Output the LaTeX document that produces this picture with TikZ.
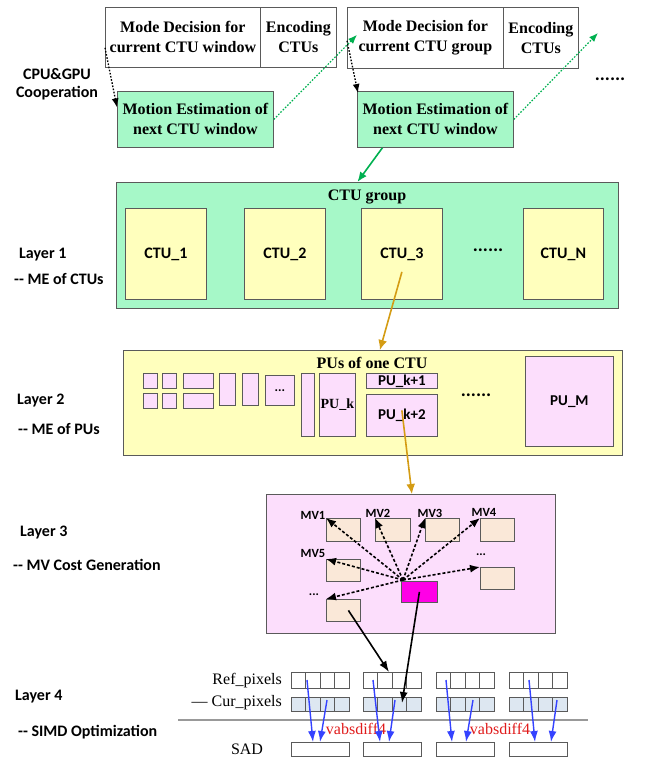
\documentclass[tikz,border=0pt]{standalone}
\usepackage{fontspec}
\setmainfont{Liberation Serif}
\newfontfamily\carl{Carlito}
\usetikzlibrary{arrows.meta,calc}

\definecolor{mint}{HTML}{A6F8C8}
\definecolor{paleyellow}{HTML}{FFFFBD}
\definecolor{palepink}{HTML}{FCDEFC}
\definecolor{peach}{HTML}{FAE8D8}
\definecolor{hotpink}{HTML}{FF00E6}
\definecolor{curblue}{HTML}{DDE7F1}
\definecolor{arrowgreen}{HTML}{00B050}
\definecolor{amber}{HTML}{D49C14}
\definecolor{simdblue}{HTML}{3442FF}
\definecolor{edge}{HTML}{5A5A5A}
\definecolor{diffred}{HTML}{E01B1B}

% box given by its top-left and bottom-right corners (y grows downwards)
\newcommand\rbox[7]{%
  \pgfmathsetmacro\rbw{#5-#3}%
  \pgfmathsetmacro\rbh{#6-#4}%
  \node[#2,minimum width=\rbw pt,minimum height=\rbh pt,anchor=north west,inner sep=0pt] (#1) at (#3,#4) {#7};}

\begin{document}
\begin{tikzpicture}[x=1pt,y=-1pt,
  serifb/.style={font=\bfseries\fontsize{16}{20}\selectfont},
  plainbox/.style={draw=edge,line width=0.8pt,fill=white,align=center,serifb},
  mebox/.style={draw=edge,line width=0.8pt,fill=mint,align=center,serifb},
  ctubox/.style={draw=edge,line width=0.8pt,fill=paleyellow,font=\carl\bfseries\fontsize{16}{18}\selectfont},
  yellowbox/.style={draw=edge,line width=0.8pt,fill=paleyellow},
  pubox/.style={draw=edge,line width=0.8pt,fill=palepink},
  pinkbox/.style={draw=edge,line width=0.8pt,fill=palepink},
  mvbox/.style={draw=edge,line width=0.8pt,fill=peach},
  rowbox/.style={draw=edge,line width=0.8pt,fill=white},
  title/.style={font=\bfseries\fontsize{16}{20}\selectfont,inner sep=0pt},
  sidelbl/.style={font=\carl\bfseries\fontsize{16}{18}\selectfont,inner sep=0pt,anchor=mid west},
  mvlbl/.style={font=\carl\bfseries\fontsize{12.5}{14}\selectfont,inner sep=0pt},
  dotslbl/.style={font=\carl\bfseries\fontsize{19}{20}\selectfont,inner sep=0pt},
  pixlbl/.style={font=\fontsize{16}{18}\selectfont,inner sep=0pt},
  cpuarrow/.style={line width=1.3pt,dash pattern=on 1.6pt off 1.6pt,-{Latex[length=9pt,width=7pt]}},
  gpuarrow/.style={arrowgreen,line width=1.2pt,dash pattern=on 1.6pt off 1.6pt,-{Latex[length=9pt,width=7pt]}},
  flowgreen/.style={arrowgreen,line width=1.6pt,-{Latex[length=10pt,width=8pt]}},
  flowamber/.style={amber,line width=1.6pt,-{Latex[length=10pt,width=9pt]}},
  mvarrow/.style={line width=1.6pt,dash pattern=on 3pt off 2pt,-{Latex[length=10pt,width=8pt]}},
  blackarrow/.style={line width=1.6pt,-{Latex[length=11pt,width=8pt]}},
  simdarrow/.style={simdblue,line width=1.4pt,-{Latex[length=11pt,width=8pt]}}]

\useasboundingbox (0,0) rectangle (654,759);

% ---------------- CPU & GPU cooperation ----------------
\rbox{md1}{plainbox}{105}{7}{260}{67}{Mode Decision for\\current CTU window}
\rbox{en1}{plainbox}{260}{7}{336}{67}{Encoding\\CTUs}
\rbox{md2}{plainbox}{347}{7}{503}{68}{Mode Decision for\\current CTU group}
\rbox{en2}{plainbox}{503}{7}{578}{68}{Encoding\\CTUs}
\rbox{me1}{mebox}{117}{91}{273}{147}{Motion Estimation of\\next CTU window}
\rbox{me2}{mebox}{357}{91}{513}{147}{Motion Estimation of\\next CTU window}
\node[font=\carl\bfseries\fontsize{16}{18}\selectfont,align=center,inner sep=0pt] (coop) at (57,84) {CPU\&GPU\\Cooperation};
\node[dotslbl] (topdots) at (610,79) {......};
\coordinate (nextmd) at (598,33);

\draw[cpuarrow] ([yshift=20pt]md1.south west) -- ([yshift=12pt]me1.west);
\draw[cpuarrow] ([yshift=28pt]md2.south west) -- ([xshift=1pt,yshift=-2pt]me2.north west);
\draw[gpuarrow] (me1.east) -- ([xshift=10pt,yshift=3pt]md2.west);
\draw[gpuarrow] (me2.east) -- (nextmd);

% ---------------- Layer 1 ----------------
\rbox{ctug}{mebox}{116}{182}{618}{308}{}
\node[title] (ctugt) at (367,197) {CTU group};
\rbox{ctu1}{ctubox}{125}{208}{206}{299}{CTU\_1}
\rbox{ctu2}{ctubox}{244}{208}{325}{299}{CTU\_2}
\rbox{ctu3}{ctubox}{361}{208}{442}{299}{CTU\_3}
\rbox{ctun}{ctubox}{523}{208}{603}{299}{CTU\_N}
\node[dotslbl] (ctudots) at (488,250) {......};
\draw[flowgreen] ([xshift=-53pt]me2.south) -- ([xshift=-10pt]ctug.north);

% ---------------- Layer 2 ----------------
\rbox{pub}{yellowbox}{123}{350}{622}{455}{}
\node[title] (pubt) at (372,363) {PUs of one CTU};
\rbox{pu1}{pubox}{143}{373}{157}{388}{}
\rbox{pu2}{pubox}{162}{373}{176}{388}{}
\rbox{pu3}{pubox}{143}{393}{157}{408}{}
\rbox{pu4}{pubox}{162}{393}{176}{408}{}
\rbox{pu5}{pubox}{183}{373}{213}{388}{}
\rbox{pu6}{pubox}{183}{393}{213}{408}{}
\rbox{pu7}{pubox}{219}{373}{235}{405}{}
\rbox{pu8}{pubox}{242}{373}{258}{405}{}
\rbox{pu9}{pubox,font=\carl\bfseries\fontsize{13}{14}\selectfont}{265}{375}{294}{405}{...}
\rbox{pu10}{pubox}{301}{373}{314}{436}{}
\rbox{puk}{pubox,font=\bfseries\fontsize{14}{16}\selectfont}{319}{373}{355}{436}{PU\_k}
\rbox{puka}{pubox,font=\carl\bfseries\fontsize{15}{16}\selectfont}{366}{373}{437}{388}{PU\_k+1}
\rbox{pukb}{pubox,font=\carl\bfseries\fontsize{15}{16}\selectfont}{366}{394}{437}{436}{PU\_k+2}
\node[dotslbl] (pudots) at (476,395) {......};
\rbox{pum}{pubox,font=\carl\bfseries\fontsize{15}{16}\selectfont}{525}{356}{613}{446}{PU\_M}
\draw[flowamber] ([yshift=-18pt]ctu3.center) -- ([xshift=7pt]pub.north);

% ---------------- Layer 3 ----------------
\rbox{mvb}{pinkbox}{266}{494}{555}{633}{}
\rbox{mv1}{mvbox}{326}{518}{360}{541}{}
\rbox{mv2}{mvbox}{375}{518}{410}{541}{}
\rbox{mv3}{mvbox}{425}{518}{459}{541}{}
\rbox{mv4}{mvbox}{480}{518}{514}{541}{}
\rbox{mv5}{mvbox}{326}{559}{360}{581}{}
\rbox{mvr}{mvbox}{480}{567}{514}{589}{}
\rbox{mvl}{mvbox}{326}{599}{360}{621}{}
\rbox{cur}{draw=edge,line width=0.8pt,fill=hotpink}{401}{581}{437}{602}{}
\node[mvlbl] (l1) at (313,515) {MV1};
\node[mvlbl] (l2) at (378,513) {MV2};
\node[mvlbl] (l3) at (430,513) {MV3};
\node[mvlbl] (l4) at (484,512) {MV4};
\node[mvlbl] (l5) at (313,553) {MV5};
\node[mvlbl] (lr) at (481,555) {...};
\node[mvlbl] (ll) at (314,595) {...};
\draw[flowamber] ([yshift=5pt]pukb.center) -- ([xshift=1pt]mvb.north);
\foreach \t in {mv1,mv2,mv3,mv4,mv5,mvr,mvl}
  \draw[mvarrow] ([xshift=2pt,yshift=1pt]cur.north west) -- (\t.north west);

% ---------------- Layer 4 ----------------
\foreach \g/\x in {1/291,2/363,3/436,4/509}{
  \rbox{ref\g}{rowbox}{\x}{672}{\x+58}{688}{}
  \rbox{cur\g}{rowbox,fill=curblue}{\x}{697}{\x+58}{711}{}
  \rbox{sad\g}{rowbox}{\x}{742}{\x+58}{756}{}
  \foreach \i in {1,2,3}{
    \draw[edge,line width=0.8pt] ($(ref\g.north west)+(\i*14.5,0)$) -- ($(ref\g.south west)+(\i*14.5,0)$);
    \draw[edge,line width=0.8pt] ($(cur\g.north west)+(\i*14.5,0)$) -- ($(cur\g.south west)+(\i*14.5,0)$);
  }
}
\node[pixlbl,anchor=mid east] (refl) at (282,682) {Ref\_pixels};
\node[pixlbl,anchor=mid east] (curl) at (282,704) {— Cur\_pixels};
\node[pixlbl] (sadl) at (247,749) {SAD};
\coordinate (sepl) at (178,720);
\coordinate (sepr) at (588,720);
\draw[black!40,line width=1.2pt] (sepl) -- (sepr);
\node[pixlbl,text=diffred] (vd1) at (356,729) {vabsdiff4};
\node[pixlbl,text=diffred] (vd2) at (500,729) {vabsdiff4};

\foreach \g/\as/\ae/\bs/\be in {1/16/22/36/29,2/10/17/32/26,3/10/16/37/30,4/20/26/48/42}{
  \draw[simdarrow] ([xshift=\as pt,yshift=-8pt]ref\g.north west) -- ([xshift=\ae pt]sad\g.north west);
  \draw[simdarrow] ([xshift=\bs pt,yshift=-3pt]cur\g.north west) -- ([xshift=\be pt]sad\g.north west);
}

\draw[blackarrow] ([xshift=5pt]mvl.center) -- ([xshift=26pt]ref2.north west);
\draw[blackarrow] (cur.center) -- ([xshift=39pt,yshift=-6pt]cur2.north west);

% left column
\node[sidelbl] (ly1) at (19,256) {Layer 1};
\node[sidelbl] (ld1) at (14,282) {-{}- ME of CTUs};
\node[sidelbl] (ly2) at (17,402) {Layer 2};
\node[sidelbl] (ld2) at (18,432) {-{}- ME of PUs};
\node[sidelbl] (ly3) at (20,534) {Layer 3};
\node[sidelbl] (ld3) at (13,568) {-{}- MV Cost Generation};
\node[sidelbl] (ly4) at (15,698) {Layer 4};
\node[sidelbl] (ld4) at (18,734) {-{}- SIMD Optimization};
\end{tikzpicture}
\end{document}
